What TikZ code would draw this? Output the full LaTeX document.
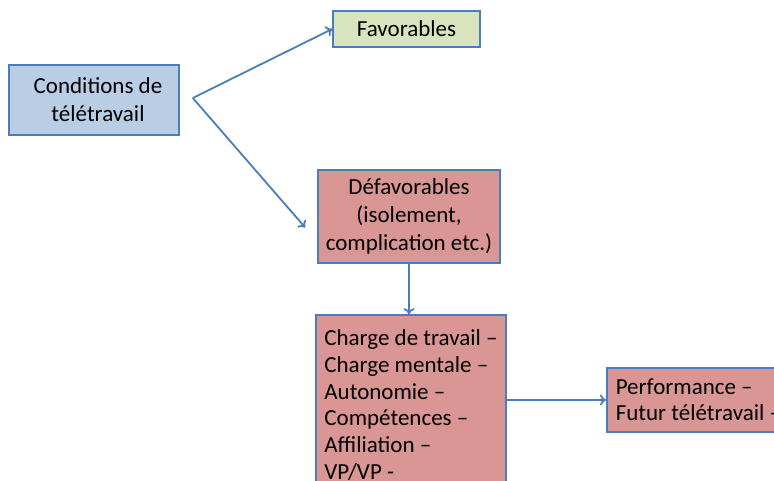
\documentclass[tikz,border=0pt]{standalone}
\usepackage{fontspec}
\setmainfont{Carlito}
\usetikzlibrary{arrows.meta}
\definecolor{boxline}{HTML}{4A7EBB}
\definecolor{bleu}{HTML}{B9CDE5}
\definecolor{vert}{HTML}{D7E4BD}
\definecolor{rouge}{HTML}{D99694}
\begin{document}
\begin{tikzpicture}[x=1pt,y=-1pt,
    boite/.style={draw=boxline, line width=1.6pt, inner sep=0pt, font=\fontsize{23}{28}\selectfont},
    fleche/.style={draw=boxline, line width=1.8pt, -{To[length=6pt,width=11pt]}}]
    \clip (0,0) rectangle (774,480);
    \fill[white] (0,0) rectangle (774,480);
    \node [boite, fill=bleu, minimum width=170pt, minimum height=70pt, align=center] (cond) at (94,100) {\hspace*{8pt}Conditions de\\\hspace*{8pt}télétravail};
    \node [boite, fill=vert, minimum width=147pt, minimum height=36pt] (fav) at (406.5,29) {Favorables};
    \node [boite, fill=rouge, minimum width=182pt, minimum height=93pt, align=center] (defav) at (409,216.5) {Défavorables\\(isolement,\\complication etc.)};
    \node [boite, fill=rouge, minimum width=190pt, minimum height=180pt, align=left, font=\fontsize{23}{26.8}\selectfont] (charge) at (411,405) {Charge de travail –\\Charge mentale –\\Autonomie –\\Compétences –\\Affiliation –\\VP/VP -};
    \node [boite, fill=rouge, anchor=west, inner xsep=9pt, minimum height=64pt, align=left, font=\fontsize{23}{26}\selectfont] (perf) at (606,400) {Performance –\\Futur télétravail –};
    \coordinate (split) at ([xshift=13pt,yshift=2pt]cond.east);
    \coordinate (defavin) at ([xshift=-12pt,yshift=-11pt]defav.west);
    \draw[fleche] (split) -- (fav.west);
    \draw[fleche] (split) -- (defavin);
    \draw[fleche] (defav.south) -- (defav.south |- charge.north);
    \draw[fleche] (charge.east |- perf.west) -- (perf.west);
\end{tikzpicture}
\end{document}
